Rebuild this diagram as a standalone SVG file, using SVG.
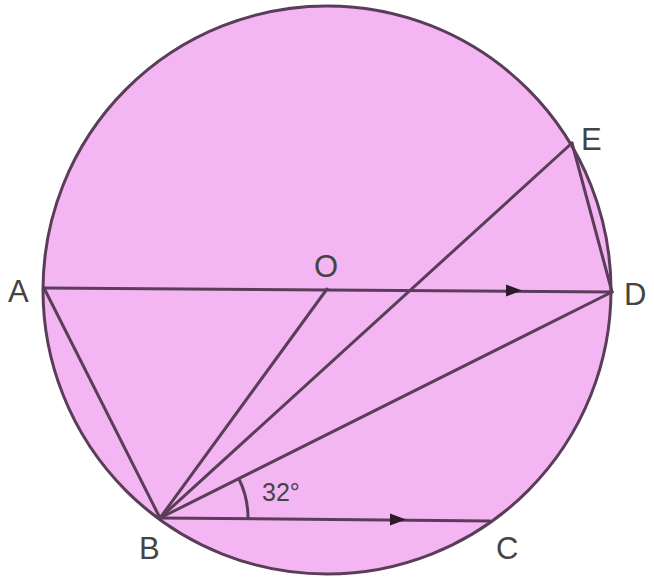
<svg xmlns="http://www.w3.org/2000/svg" width="654" height="578" viewBox="0 0 654 578">
<style>
.ln{stroke:#5a3d58;stroke-width:3;fill:none;stroke-linecap:round}
.lbl{font-family:"Liberation Sans",Arial,sans-serif;font-size:31px;fill:#444}
</style>
<defs>
<marker id="ar" viewBox="0 0 10 10" refX="5" refY="5" markerWidth="5" markerHeight="5" orient="auto" markerUnits="strokeWidth"><path d="M0,0 L10,5 L0,10 z" fill="#2a1a2a"/></marker>
</defs>
<rect width="654" height="578" fill="#fff"/>
<g id="circle"><circle cx="327" cy="290" r="284" fill="#f4b6f3" stroke="#5a3d58" stroke-width="3"/></g>
<g id="connectors">
<line class="ln" x1="44" y1="288" x2="612" y2="292"/>
<line class="ln" x1="160" y1="518" x2="490" y2="521"/>
<line class="ln" x1="44" y1="288" x2="160" y2="518"/>
<line class="ln" x1="160" y1="518" x2="327" y2="289"/>
<line class="ln" x1="160" y1="518" x2="572" y2="143"/>
<line class="ln" x1="160" y1="518" x2="612" y2="292"/>
<line class="ln" x1="572" y1="143" x2="612" y2="292"/>
<path d="M248,518 A88,88 0 0 0 239,479" class="ln" stroke-width="2"/>
<path d="M506,284.5 L522,290.5 L506,296.5 z" fill="#2a1a2a"/>
<path d="M390,513.5 L406,519.5 L390,525.5 z" fill="#2a1a2a"/>
</g>
<g id="A"><text class="lbl" x="8" y="302">A</text></g>
<g id="O"><text class="lbl" x="314" y="277">O</text></g>
<g id="E"><text class="lbl" x="581" y="150">E</text></g>
<g id="D"><text class="lbl" x="624" y="305">D</text></g>
<g id="B"><text class="lbl" x="139" y="559">B</text></g>
<g id="C"><text class="lbl" x="496" y="559">C</text></g>
<g id="angle"><text x="262" y="501" font-family="'Liberation Sans',Arial,sans-serif" font-size="25" fill="#444">32°</text></g>
</svg>
